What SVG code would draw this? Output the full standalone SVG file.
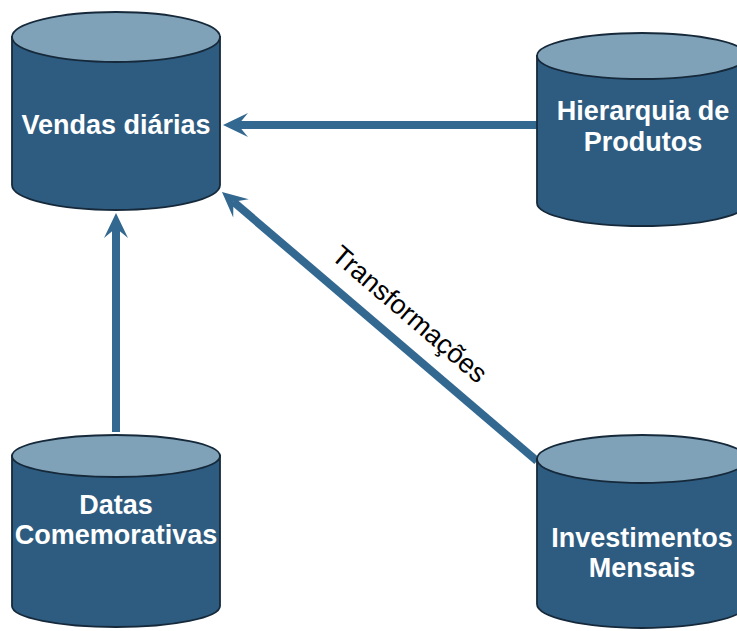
<svg xmlns="http://www.w3.org/2000/svg" width="737" height="631" viewBox="0 0 737 631">
  <style>
    .body { fill: #2e5c80; stroke: #16293a; stroke-width: 1.8; }
    .lid { fill: #7fa2b8; stroke: #16293a; stroke-width: 1.8; }
    .label { font-family: "Liberation Sans", Arial, sans-serif; font-weight: bold; font-size: 27px; fill: #ffffff; text-anchor: middle; }
    .link { stroke: #336891; stroke-width: 8; fill: none; marker-end: url(#head); }
    .edge-label { font-family: "Liberation Sans", Arial, sans-serif; font-size: 27px; fill: #000000; text-anchor: middle; }
  </style>
  <defs>
    <marker id="head" markerUnits="userSpaceOnUse" viewBox="-26 -13 28 26" markerWidth="28" markerHeight="26" refX="-15" refY="0" orient="auto">
      <path d="M0,0 L-25,-12 L-15,0 L-25,12 Z" fill="#336891"/>
    </marker>
  </defs>

  <rect width="737" height="631" fill="#ffffff"/>

  <!-- connectors -->
  <g id="connectors">
    <line class="link" x1="537" y1="125" x2="238" y2="125"/>
    <line class="link" x1="116" y1="432" x2="116" y2="228"/>
    <line class="link" x1="537" y1="461" x2="233.4" y2="201.8"/>
    <text class="edge-label" transform="translate(409,315) rotate(40.6)" y="8">Transformações</text>
  </g>

  <!-- Vendas diárias -->
  <g id="vendas-diarias">
    <path class="body" d="M12,37 L12,185 A104,25 0 0 0 220,185 L220,37 Z"/>
    <ellipse class="lid" cx="116" cy="37" rx="104" ry="25"/>
    <text class="label" x="116" y="134">Vendas diárias</text>
  </g>

  <!-- Hierarquia de Produtos -->
  <g id="hierarquia-produtos">
    <path class="body" d="M537,56 L537,203 A105,23 0 0 0 747,203 L747,56 Z"/>
    <ellipse class="lid" cx="642" cy="56" rx="105" ry="23"/>
    <text class="label" x="643" y="120">Hierarquia de</text>
    <text class="label" x="643" y="151">Produtos</text>
  </g>

  <!-- Datas Comemorativas -->
  <g id="datas-comemorativas">
    <path class="body" d="M12,456 L12,606 A104,21 0 0 0 220,606 L220,456 Z"/>
    <ellipse class="lid" cx="116" cy="456" rx="104" ry="21"/>
    <text class="label" x="116" y="514">Datas</text>
    <text class="label" x="116" y="544">Comemorativas</text>
  </g>

  <!-- Investimentos Mensais -->
  <g id="investimentos-mensais">
    <path class="body" d="M537,459 L537,604 A105,24 0 0 0 747,604 L747,459 Z"/>
    <ellipse class="lid" cx="642" cy="459" rx="105" ry="24"/>
    <text class="label" x="642" y="547">Investimentos</text>
    <text class="label" x="642" y="577">Mensais</text>
  </g>
</svg>
